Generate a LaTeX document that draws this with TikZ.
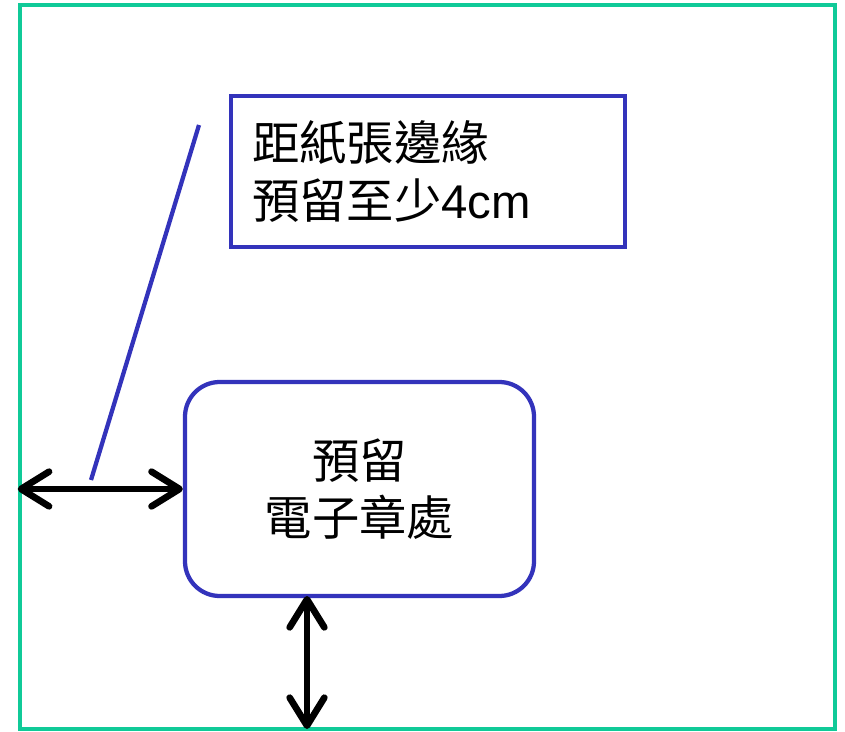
\documentclass[tikz,border=0pt]{standalone}
\usepackage{fontspec}
\setmainfont{Liberation Sans}
\newfontfamily\cjk{Noto Sans CJK TC}
\usetikzlibrary{arrows.meta,positioning}
\definecolor{pagegreen}{HTML}{10CA98}
\definecolor{markblue}{HTML}{3333BB}

\begin{document}
\begin{tikzpicture}[x=0.75pt, y=-0.75pt,
    every node/.style={font=\fontsize{35.5}{43}\selectfont},
    paper/.style={draw=pagegreen, line width=3.4pt, minimum width=611.25pt, minimum height=543pt, inner sep=0pt},
    note/.style={draw=markblue, line width=3.6pt, minimum width=295.5pt, minimum height=113.25pt, text width=264pt, inner xsep=15.75pt, align=left},
    stamp/.style={draw=markblue, line width=3.2pt, rounded corners=26pt, minimum width=261.75pt, minimum height=160.5pt, align=center},
    gap/.style={{Straight Barb[length=21pt, width=26pt, line width=5pt, round]}-{Straight Barb[length=21pt, width=26pt, line width=5pt, round]}, line width=5pt}
  ]
    \useasboundingbox (0,0) rectangle (845,731);
    \node[paper] (page) at (427.5,367) {};
    \node[note] (note) at (428,171.5) {{\cjk 距紙張邊緣}\\{\cjk 預留至少}4cm};
    \node[stamp] (stamp) at (359.5,489) {{\cjk 預留}\\{\cjk 電子章處}};

    \coordinate (lead) at (199,125);
    \coordinate (tip) at (91,480);
    \coordinate (vtop) at (307,596);
    \coordinate (vbot) at (307,729);

    \draw[markblue, line width=3.2pt] (lead) -- (tip);
    \draw[gap] (stamp.west -| page.west) -- (stamp.west);
    \draw[gap] (vtop) -- (vbot);
  \end{tikzpicture}
\end{document}
